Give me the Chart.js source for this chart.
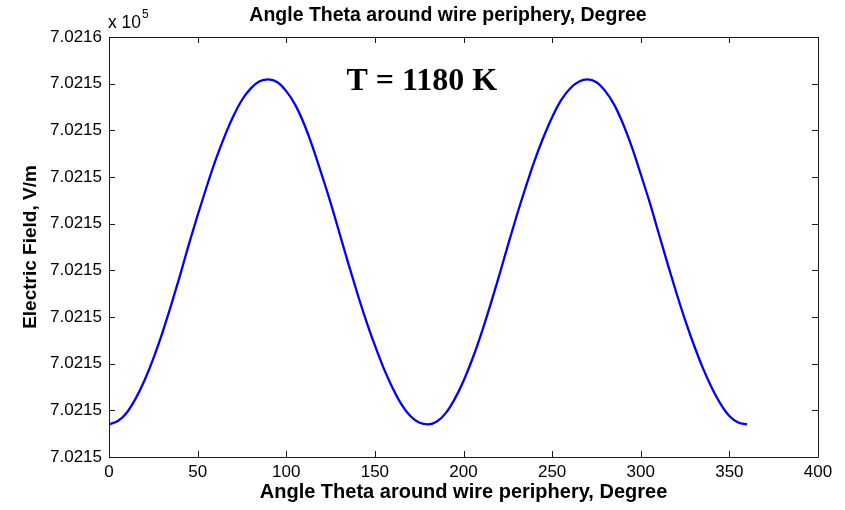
<!DOCTYPE html>
<html>
<head>
<meta charset="utf-8">
<script src="https://cdn.jsdelivr.net/npm/chart.js@4.4.0/dist/chart.umd.min.js"></script>
<style>
  html, body { margin: 0; padding: 0; background: #fff; }
  canvas { display: block; }
</style>
</head>
<body>
<canvas id="fieldChart" width="845" height="510"></canvas>
<script>
// angle around the wire periphery, degrees
const thetaDeg = [
    0, 5, 10, 15, 20, 25, 30, 35, 40, 45, 50, 55, 60, 65, 70, 75, 80, 85, 90,
    95, 100, 105, 110, 115, 120, 125, 130, 135, 140, 145, 150, 155, 160, 165, 170, 175, 180,
    185, 190, 195, 200, 205, 210, 215, 220, 225, 230, 235, 240, 245, 250, 255, 260, 265, 270,
    275, 280, 285, 290, 295, 300, 305, 310, 315, 320, 325, 330, 335, 340, 345, 350, 355, 360
];

// electric field, V/m
const fieldVm = [
    702154.170, 702154.177, 702154.195, 702154.225, 702154.264, 702154.311, 702154.365, 702154.425,
    702154.488, 702154.555, 702154.618, 702154.678, 702154.735, 702154.785, 702154.829, 702154.865,
    702154.890, 702154.905, 702154.909,
    702154.903, 702154.884, 702154.855, 702154.814, 702154.763, 702154.705, 702154.645, 702154.580,
    702154.515, 702154.452, 702154.393, 702154.339, 702154.290, 702154.248, 702154.213, 702154.188,
    702154.174, 702154.170,
    702154.176, 702154.194, 702154.224, 702154.263, 702154.310, 702154.364, 702154.424, 702154.487,
    702154.553, 702154.617, 702154.677, 702154.734, 702154.784, 702154.828, 702154.864, 702154.889,
    702154.904, 702154.909,
    702154.903, 702154.884, 702154.855, 702154.814, 702154.764, 702154.706, 702154.646, 702154.581,
    702154.516, 702154.453, 702154.394, 702154.340, 702154.291, 702154.249, 702154.214, 702154.188,
    702154.174, 702154.170
];

const yTickValues = [702154.1, 702154.2, 702154.3, 702154.4, 702154.5, 702154.6, 702154.7, 702154.8, 702154.9, 702155.0];
const yTickLabels = ['7.0215', '7.0215', '7.0215', '7.0215', '7.0215', '7.0215', '7.0215', '7.0215', '7.0215', '7.0216'];

const chartTitle = 'Angle Theta around wire periphery, Degree';
const xTitle = 'Angle Theta around wire periphery, Degree';
const yTitle = 'Electric Field, V/m';
const noteText = 'T = 1180 K';

const sans = '"Liberation Sans", Arial, Helvetica, sans-serif';

// MATLAB-like box, inward ticks, title, exponent and the note
const matlabFrame = {
    id: 'matlabFrame',
    beforeDraw(chart) {
        const ctx = chart.ctx;
        ctx.save();
        ctx.fillStyle = '#fff';
        ctx.fillRect(0, 0, chart.width, chart.height);
        ctx.restore();
    },
    afterDraw(chart) {
        const ctx = chart.ctx;
        const a = chart.chartArea;
        const xs = chart.scales.x;
        const ys = chart.scales.y;
        const len = 6;

        ctx.save();
        ctx.strokeStyle = '#1a1a1a';
        ctx.lineWidth = 1;
        ctx.beginPath();
        ctx.rect(Math.round(a.left) + 0.5, Math.round(a.top) + 0.5,
                 Math.round(a.right - a.left), Math.round(a.bottom - a.top));
        xs.ticks.forEach(t => {
            const px = Math.round(xs.getPixelForValue(t.value)) + 0.5;
            ctx.moveTo(px, a.bottom);
            ctx.lineTo(px, a.bottom - len);
            ctx.moveTo(px, a.top);
            ctx.lineTo(px, a.top + len);
        });
        ys.ticks.forEach(t => {
            const py = Math.round(ys.getPixelForValue(t.value)) + 0.5;
            ctx.moveTo(a.left, py);
            ctx.lineTo(a.left + len, py);
            ctx.moveTo(a.right, py);
            ctx.lineTo(a.right - len, py);
        });
        ctx.stroke();

        ctx.fillStyle = '#000';
        ctx.textBaseline = 'alphabetic';

        ctx.font = 'bold 19.5px ' + sans;
        ctx.textAlign = 'center';
        ctx.fillText(chartTitle, 448, 21);

        ctx.textAlign = 'left';
        ctx.font = '17.5px ' + sans;
        ctx.fillText('x 10', a.left - 1, 28);
        ctx.font = '12px ' + sans;
        ctx.fillText('5', a.left + 33, 18);

        ctx.font = 'bold 32px "Liberation Serif", "Times New Roman", serif';
        ctx.fillText(noteText, xs.getPixelForValue(134), ys.getPixelForValue(702154.886));
        ctx.restore();
    }
};

new Chart(document.getElementById('fieldChart'), {
    type: 'scatter',
    data: {
        datasets: [{
            data: thetaDeg.map((t, i) => ({ x: t, y: fieldVm[i] })),
            showLine: true,
            borderColor: '#0000ff',
            borderWidth: 2.3,
            pointRadius: 0,
            cubicInterpolationMode: 'monotone',
            fill: false
        }]
    },
    plugins: [matlabFrame],
    options: {
        responsive: false,
        animation: false,
        layout: { padding: { top: 37, right: 27, left: 0, bottom: 0 } },
        plugins: {
            legend: { display: false },
            tooltip: { enabled: false },
            title: { display: false }
        },
        scales: {
            x: {
                type: 'linear',
                min: 0,
                max: 400,
                grid: { display: false, drawTicks: false },
                border: { display: false },
                ticks: {
                    stepSize: 50,
                    padding: 5,
                    color: '#000',
                    maxRotation: 0,
                    font: { family: sans, size: 17 }
                },
                title: {
                    display: true,
                    text: xTitle,
                    color: '#000',
                    font: { family: sans, size: 20, weight: 'bold' },
                    padding: { top: 0, bottom: 6 }
                },
                afterFit(scale) { scale.height = 53; }
            },
            y: {
                type: 'linear',
                min: yTickValues[0],
                max: yTickValues[yTickValues.length - 1],
                grid: { display: false, drawTicks: false },
                border: { display: false },
                afterBuildTicks(scale) {
                    scale.ticks = yTickValues.map(v => ({ value: v }));
                },
                ticks: {
                    padding: 7,
                    color: '#000',
                    font: { family: sans, size: 17 },
                    callback: (value, index) => yTickLabels[index]
                },
                title: {
                    display: true,
                    text: yTitle,
                    color: '#000',
                    font: { family: sans, size: 19, weight: 'bold' },
                    padding: { top: 19.5, bottom: 0 }
                },
                afterFit(scale) { scale.width = 109; }
            }
        }
    }
});
</script>
</body>
</html>
